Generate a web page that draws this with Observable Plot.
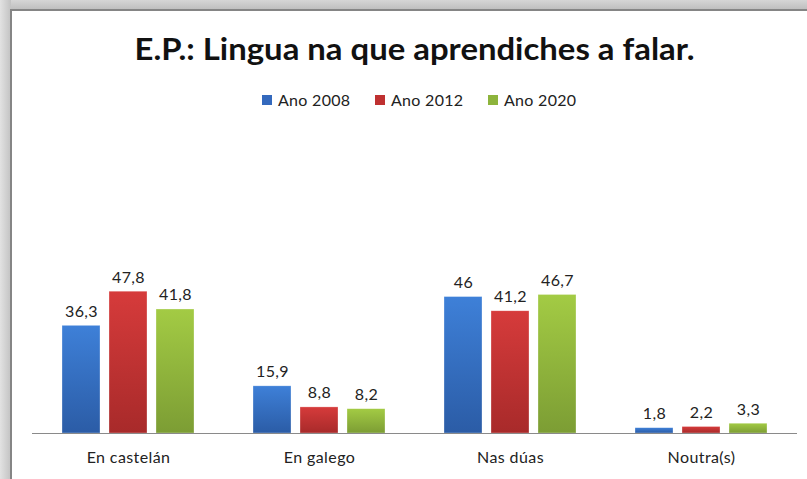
<!DOCTYPE html>
<html>
<head>
<meta charset="utf-8">
<script src="https://cdn.jsdelivr.net/npm/d3@7"></script>
<script src="https://cdn.jsdelivr.net/npm/@observablehq/plot@0.6"></script>
<style>
  html, body { margin: 0; padding: 0; }
  body { width: 807px; height: 479px; overflow: hidden; position: relative; background: #cdcdcd; font-family: Lato, "Open Sans", sans-serif; }
  #topband { position: absolute; left: 0; top: 0; width: 807px; height: 10px; background: linear-gradient(to bottom, #d6d6d6, #bdbdbd); }
  #leftband { position: absolute; left: 0; top: 0; width: 11px; height: 479px; background: linear-gradient(to right, #e2e2e2, #c2c2c2); }
  #panel { position: absolute; left: 10px; top: 9px; width: 810px; height: 480px; background: #fff; border-top: 2px solid #858585; border-left: 2px solid #858585; }
  #title { position: absolute; left: 0; top: 30px; width: 830px; text-align: center; font-family: Lato, sans-serif; font-weight: bold; font-size: 30px; color: #111; white-space: nowrap; }
  #title span { display: inline-block; transform-origin: center; }
  #legend { position: absolute; top: 90px; left: 262px; display: flex; font-size: 16px; letter-spacing: 0.3px; color: #222; white-space: nowrap; }
  .item { display: flex; align-items: center; width: 113px; }
  .sw { width: 10px; height: 10px; margin-right: 6px; }
  #chart { position: absolute; left: 0; top: 240px; }
  #chart svg text { letter-spacing: 0.4px; }
</style>
</head>
<body>
<div id="topband"></div>
<div id="leftband"></div>
<div id="panel"></div>
<div id="title"><span>E.P.: Lingua na que aprendiches a falar.</span></div>
<div id="legend"></div>
<div id="chart"></div>
<script>
const categories = ["En castelán", "En galego", "Nas dúas", "Noutra(s)"];
const years = ["Ano 2008", "Ano 2012", "Ano 2020"];
const values2008 = [36.3, 15.9, 46, 1.8];
const values2012 = [47.8, 8.8, 41.2, 2.2];
const values2020 = [41.8, 8.2, 46.7, 3.3];
const seriesColors = ["#3469bd", "#bf3131", "#8db43c"];

const series = [values2008, values2012, values2020];
const data = [];
categories.forEach((c, i) => {
  years.forEach((y, j) => data.push({category: c, year: y, value: series[j][i]}));
});

const gradIds = ["g0", "g1", "g2"];
const gradStops = [
  ["#3e80d8", "#2b5ca6"],
  ["#d63b3b", "#a82a2a"],
  ["#a3cb44", "#7c9d34"]
];

const fmt = v => String(v).replace(".", ",");

const plot = Plot.plot({
  width: 807,
  height: 239,
  marginTop: 15,
  marginBottom: 46,
  marginLeft: 32,
  marginRight: 10,
  style: {fontFamily: "Lato, 'Open Sans', sans-serif", fontSize: "16px", color: "#222", background: "transparent"},
  fx: {domain: categories, paddingInner: 0.3, paddingOuter: 0.15, label: null, axis: "bottom", tickSize: 0, tickPadding: 18},
  x: {domain: years, padding: 0.2, paddingOuter: 0, axis: null},
  y: {domain: [0, 60], axis: null},
  color: {domain: years, range: gradIds.map(id => `url(#${id})`)},
  marks: [
    Plot.barY(data, {fx: "category", x: "year", y: "value", fill: "year", stroke: "#ffffff", strokeOpacity: 0.5, strokeWidth: 0.6}),
    Plot.ruleY([0], {stroke: "#8a8a8a", strokeWidth: 1.2, insetLeft: -29, insetRight: -29}),
    Plot.text(data, {fx: "category", x: "year", y: "value", text: d => fmt(d.value), dy: -9, lineAnchor: "bottom", fill: "#222", fontSize: 16})
  ]
});

const ns = "http://www.w3.org/2000/svg";
const defs = document.createElementNS(ns, "defs");
gradIds.forEach((id, k) => {
  const lg = document.createElementNS(ns, "linearGradient");
  lg.setAttribute("id", id);
  lg.setAttribute("x1", "0"); lg.setAttribute("y1", "0");
  lg.setAttribute("x2", "0"); lg.setAttribute("y2", "1");
  [[0, gradStops[k][0]], [1, gradStops[k][1]]].forEach(([o, c]) => {
    const s = document.createElementNS(ns, "stop");
    s.setAttribute("offset", o);
    s.setAttribute("stop-color", c);
    lg.appendChild(s);
  });
  defs.appendChild(lg);
});
plot.insertBefore(defs, plot.firstChild);
document.getElementById("chart").appendChild(plot);

const legend = document.getElementById("legend");
years.forEach((y, j) => {
  const it = document.createElement("div");
  it.className = "item";
  const sw = document.createElement("div");
  sw.className = "sw";
  sw.style.background = seriesColors[j];
  const t = document.createElement("span");
  t.textContent = y;
  it.appendChild(sw); it.appendChild(t);
  legend.appendChild(it);
});

// fit title width to the reference (~560px)
const span = document.querySelector("#title span");
const w = span.getBoundingClientRect().width;
span.style.transform = `scaleX(${560 / w})`;
</script>
</body>
</html>
